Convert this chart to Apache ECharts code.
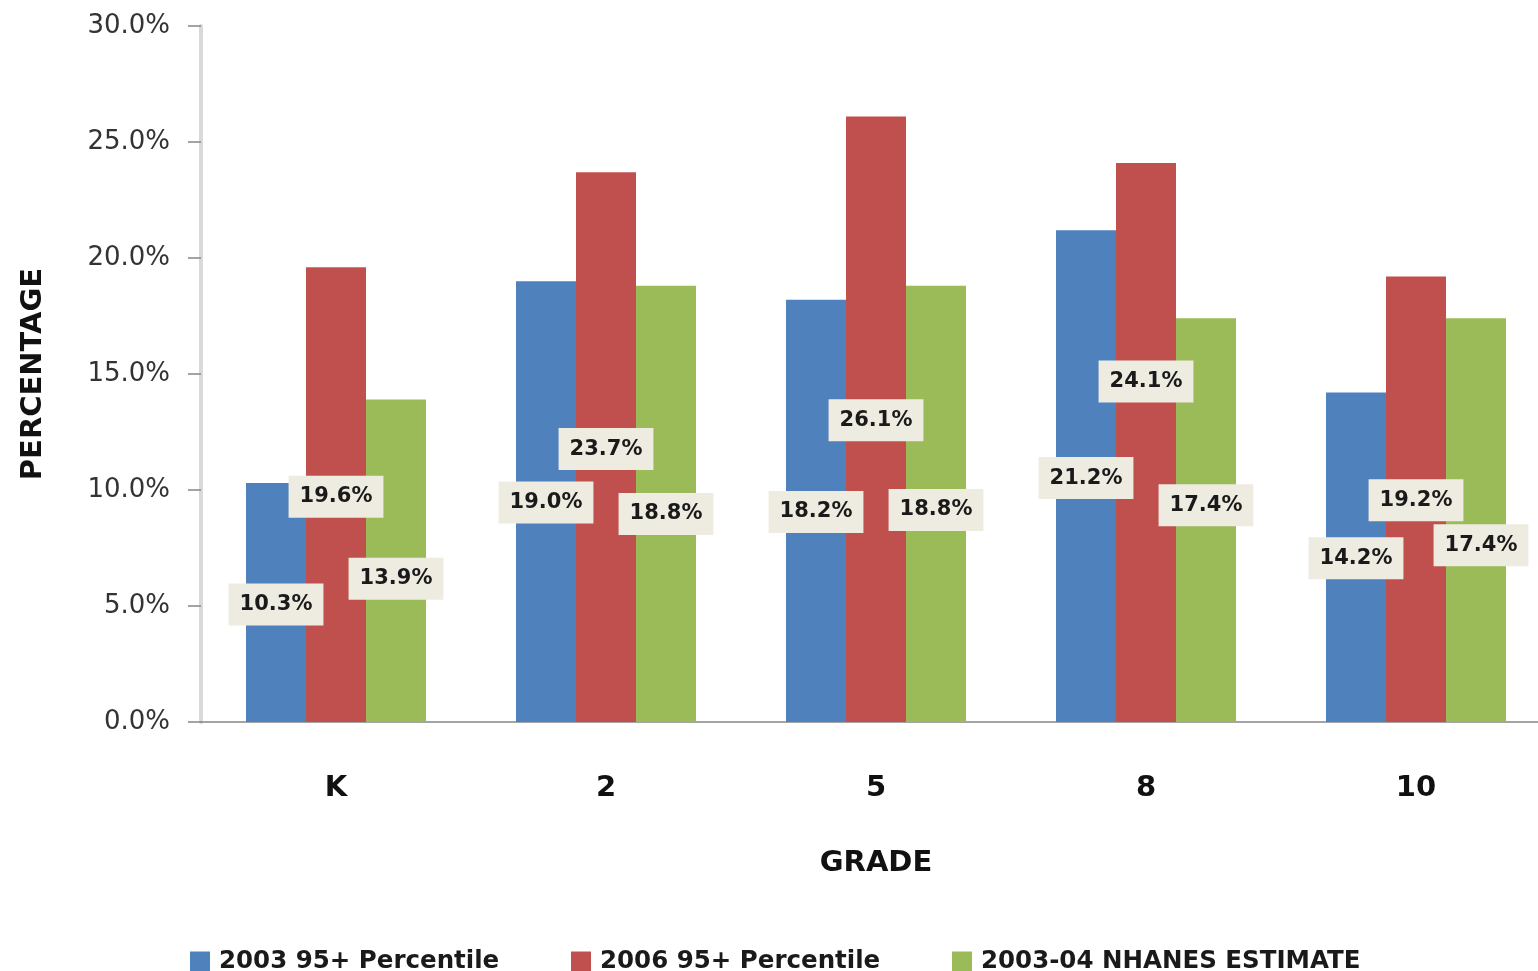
<!DOCTYPE html>
<html>
<head>
<meta charset="utf-8">
<script src="https://cdn.jsdelivr.net/npm/echarts@6/dist/echarts.min.js"></script>
<style>
html,body{margin:0;padding:0;background:#fff;}
#chart{width:1538px;height:971px;}
</style>
</head>
<body>
<div id="chart"></div>
<script>
const grades = ['K', '2', '5', '8', '10'];
const seriesNames = ['2003 95+ Percentile', '2006 95+ Percentile', '2003-04 NHANES ESTIMATE'];
const pct2003 = [10.3, 19.0, 18.2, 21.2, 14.2];
const pct2006 = [19.6, 23.7, 26.1, 24.1, 19.2];
const nhanes = [13.9, 18.8, 18.8, 17.4, 17.4];
const yTicks = [0, 5, 10, 15, 20, 25, 30];

// label nudges (style only): vertical pixel shifts from bar middle
const labelNudge = [
  [2, 1, 1, 2, 1],
  [2, 2, 1, -61, 1],
  [18, 10, 6, -15, 25]
];
const colors = ['#4f81bd', '#c0504d', '#9bbb59'];
const values = [pct2003, pct2006, nhanes];

const chart = echarts.init(document.getElementById('chart'));
const FONT = 'DejaVu Sans';

const series = values.map((arr, si) => ({
  name: seriesNames[si],
  type: 'bar',
  barWidth: 60,
  barGap: '0%',
  itemStyle: { color: colors[si] },
  data: arr.map((v, i) => ({
    value: v,
    label: { offset: [si === 2 && i === 4 ? 5 : 0, labelNudge[si][i]] }
  })),
  label: {
    show: true,
    position: 'inside',
    formatter: p => p.value.toFixed(1) + '%',
    fontFamily: FONT,
    fontWeight: 'bold',
    fontSize: 21,
    color: '#1a1a1a',
    backgroundColor: '#eeece1',
    padding: [11, 11, 10, 11]
  }
}));

const legends = seriesNames.map((n, i) => ({
  data: [n],
  left: [185, 566, 947][i],
  top: 944,
  itemWidth: 20,
  itemHeight: 20,
  icon: 'rect',
  textStyle: { fontFamily: FONT, fontWeight: 'bold', fontSize: 24.5, color: '#1a1a1a', padding: [0, 0, 0, 4] }
}));

chart.setOption({
  backgroundColor: '#ffffff',
  animation: false,
  legend: legends,
  grid: { left: 201, top: 26, height: 696, width: 1350, containLabel: false, outerBoundsMode: 'none' },
  xAxis: {
    type: 'category',
    data: grades,
    axisLine: { show: true, lineStyle: { color: '#868686', width: 1.5 } },
    axisTick: { show: false },
    axisLabel: { fontFamily: FONT, fontWeight: 'bold', fontSize: 29, color: '#111', margin: 52 },
    name: 'GRADE',
    nameLocation: 'middle',
    nameGap: 141,
    nameTextStyle: { fontFamily: FONT, fontWeight: 'bold', fontSize: 29, color: '#111', verticalAlign: 'middle' }
  },
  yAxis: {
    type: 'value',
    min: yTicks[0],
    max: yTicks[yTicks.length - 1],
    interval: yTicks[1] - yTicks[0],
    axisLine: { show: true, lineStyle: { color: '#d9d9d9', width: 4 } },
    axisTick: { show: true, length: 13, lineStyle: { color: '#868686', width: 1.5 } },
    splitLine: { show: false },
    axisLabel: {
      fontFamily: FONT, fontSize: 26, color: '#333', margin: 31,
      formatter: v => v.toFixed(1) + '%'
    },
    name: 'PERCENTAGE',
    nameLocation: 'middle',
    nameGap: 168,
    nameRotate: 90,
    nameTextStyle: { fontFamily: FONT, fontWeight: 'bold', fontSize: 29, color: '#111', verticalAlign: 'middle' }
  },
  series: series
});
</script>
</body>
</html>
